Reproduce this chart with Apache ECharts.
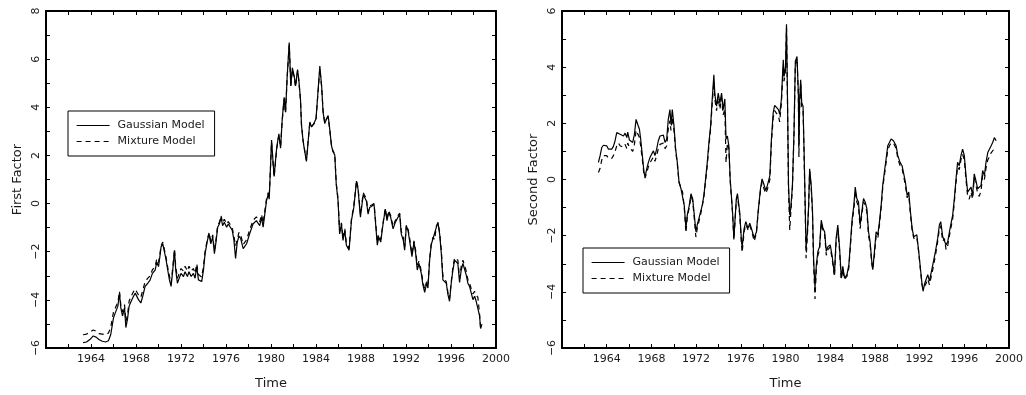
<!DOCTYPE html>
<html>
<head>
<meta charset="utf-8">
<script src="https://cdn.jsdelivr.net/npm/echarts@6/dist/echarts.min.js"></script>
<style>html,body{margin:0;padding:0;background:#fff}#c{width:1026px;height:395px}</style>
</head>
<body>
<div id="c"></div>
<script>
// ---- Left panel: First Factor ----
const time1 = [1963.3,1963.6,1963.9,1964.2,1964.45,1964.7,1965.0,1965.3,1965.55,1965.75,1966.0,1966.15,1966.39,1966.53,1966.65,1966.8,1966.98,1967.1,1967.24,1967.39,1967.57,1967.78,1967.93,1968.07,1968.22,1968.43,1968.6,1968.81,1969.05,1969.26,1969.46,1969.7,1969.85,1970.0,1970.14,1970.23,1970.38,1970.53,1970.68,1970.82,1970.97,1971.12,1971.27,1971.42,1971.53,1971.68,1971.83,1972.0,1972.22,1972.36,1972.57,1972.71,1972.9,1973.1,1973.25,1973.4,1973.55,1973.72,1973.84,1974.0,1974.14,1974.35,1974.5,1974.64,1974.82,1974.97,1975.11,1975.26,1975.41,1975.56,1975.7,1975.85,1976.06,1976.2,1976.35,1976.55,1976.7,1976.85,1977.0,1977.15,1977.3,1977.53,1977.83,1978.1,1978.4,1978.7,1979.0,1979.16,1979.3,1979.6,1979.75,1979.84,1980.05,1980.2,1980.28,1980.5,1980.7,1980.85,1981.0,1981.17,1981.29,1981.44,1981.62,1981.76,1981.9,1982.06,1982.18,1982.36,1982.47,1982.62,1982.71,1982.86,1983.0,1983.15,1983.3,1983.45,1983.6,1983.8,1984.0,1984.13,1984.34,1984.5,1984.63,1984.78,1984.93,1985.08,1985.23,1985.37,1985.5,1985.67,1985.8,1985.96,1986.1,1986.26,1986.4,1986.56,1986.7,1986.94,1987.15,1987.36,1987.6,1987.74,1987.95,1988.2,1988.33,1988.48,1988.63,1988.77,1988.98,1989.16,1989.3,1989.45,1989.57,1989.75,1989.96,1990.16,1990.31,1990.46,1990.64,1990.85,1991.05,1991.29,1991.44,1991.58,1991.76,1991.88,1992.03,1992.18,1992.38,1992.53,1992.71,1992.86,1993.0,1993.15,1993.36,1993.5,1993.66,1993.83,1993.95,1994.1,1994.25,1994.4,1994.54,1994.7,1994.84,1994.99,1995.14,1995.28,1995.43,1995.58,1995.73,1995.87,1996.02,1996.17,1996.32,1996.47,1996.61,1996.76,1996.91,1997.06,1997.2,1997.35,1997.5,1997.65,1997.8,1997.95,1998.1,1998.24,1998.39,1998.54,1998.63,1998.75];
const gauss1 = [-5.78,-5.75,-5.65,-5.5,-5.55,-5.65,-5.72,-5.75,-5.7,-5.45,-4.75,-4.55,-4.26,-3.72,-4.33,-4.67,-4.33,-5.15,-4.81,-4.26,-4.06,-3.85,-3.72,-3.78,-3.99,-4.13,-3.85,-3.44,-3.31,-3.17,-2.9,-2.76,-2.42,-2.62,-2.14,-1.8,-1.67,-1.73,-2.35,-2.76,-3.17,-3.44,-2.76,-1.94,-2.76,-3.31,-3.37,-2.9,-3.03,-2.83,-3.03,-2.83,-3.03,-2.9,-3.1,-2.62,-3.17,-3.1,-3.24,-2.76,-2.08,-1.53,-1.26,-1.67,-1.39,-2.08,-1.6,-0.98,-0.85,-0.57,-0.92,-0.78,-0.98,-0.85,-0.9,-1.1,-1.5,-2.28,-1.6,-1.35,-1.45,-1.87,-1.67,-1.26,-0.85,-0.71,-0.92,-0.57,-0.98,0.11,0.38,0.18,2.64,1.6,1.13,2.3,2.9,2.3,3.52,4.41,3.8,5.3,6.69,4.89,5.64,5.3,4.89,5.57,5.16,4.34,3.25,2.57,2.16,1.75,2.57,3.39,3.18,3.32,3.52,4.34,5.71,4.89,3.8,3.32,3.52,3.66,3.05,2.43,2.16,2.02,0.8,0.11,-1.26,-0.85,-1.53,-1.12,-1.73,-1.94,-0.71,-0.16,0.93,0.59,-0.57,0.38,0.45,0.11,-0.44,-0.16,-0.1,-0.03,-0.85,-1.73,-1.39,-1.6,-0.85,-0.23,-0.71,-0.37,-0.57,-1.05,-0.78,-0.57,-0.44,-1.26,-1.53,-1.94,-0.92,-1.12,-1.73,-2.21,-1.6,-2.08,-2.76,-2.49,-2.9,-3.37,-3.69,-3.31,-3.51,-2.35,-1.69,-1.46,-1.53,-0.98,-0.78,-1.26,-2.08,-3.17,-3.1,-3.31,-3.78,-4.06,-3.31,-2.76,-2.35,-2.42,-2.49,-3.28,-2.76,-2.49,-2.49,-2.96,-3.31,-3.44,-3.72,-3.99,-3.85,-4.06,-4.06,-4.67,-5.19,-5.01];
const mix1 = [-5.45,-5.42,-5.35,-5.25,-5.3,-5.4,-5.42,-5.45,-5.38,-5.15,-4.5,-4.35,-4.1,-3.65,-4.2,-4.5,-4.2,-4.9,-4.65,-4.05,-3.85,-3.65,-3.55,-3.6,-3.8,-3.9,-3.6,-3.25,-3.1,-3.0,-2.75,-2.6,-2.3,-2.45,-2.05,-1.75,-1.6,-1.65,-2.25,-2.65,-3.0,-3.3,-2.65,-1.9,-2.6,-3.1,-3.15,-2.7,-2.8,-2.6,-2.8,-2.6,-2.8,-2.7,-2.9,-2.5,-2.95,-2.9,-3.05,-2.6,-2.0,-1.45,-1.2,-1.55,-1.3,-1.95,-1.5,-0.9,-0.78,-0.5,-0.8,-0.65,-0.85,-0.75,-0.8,-1.0,-1.35,-1.75,-1.5,-1.2,-1.3,-1.7,-1.5,-1.1,-0.7,-0.55,-0.75,-0.45,-0.8,0.2,0.45,0.25,2.55,1.55,1.1,2.25,2.85,2.35,3.45,4.35,3.75,5.25,6.6,4.9,5.55,5.25,4.85,5.5,5.1,4.3,3.3,2.6,2.2,1.8,2.6,3.35,3.2,3.3,3.45,4.3,5.6,4.85,3.85,3.35,3.5,3.6,3.05,2.45,2.2,2.05,0.85,0.2,-1.15,-0.8,-1.45,-1.05,-1.65,-1.85,-0.65,-0.1,0.95,0.65,-0.45,0.45,0.5,0.2,-0.35,-0.1,-0.05,0.0,-0.75,-1.6,-1.3,-1.5,-0.8,-0.2,-0.65,-0.3,-0.5,-0.95,-0.7,-0.5,-0.4,-1.15,-1.4,-1.8,-0.9,-1.05,-1.6,-2.1,-1.55,-1.95,-2.55,-2.4,-2.8,-3.25,-3.55,-3.25,-3.4,-2.3,-1.65,-1.4,-1.5,-0.95,-0.8,-1.2,-1.95,-3.0,-3.05,-3.25,-3.7,-3.95,-3.25,-2.65,-2.25,-2.3,-2.35,-3.1,-2.6,-2.35,-2.4,-2.8,-3.15,-3.3,-3.55,-3.75,-3.65,-3.8,-3.9,-4.6,-5.15,-5.0];

// ---- Right panel: Second Factor ----
const time2 = [1963.26,1963.41,1963.56,1963.71,1963.86,1964.0,1964.16,1964.3,1964.45,1964.6,1964.75,1964.9,1965.05,1965.2,1965.35,1965.5,1965.65,1965.8,1965.88,1966.03,1966.18,1966.33,1966.48,1966.63,1966.78,1966.93,1967.04,1967.19,1967.34,1967.43,1967.58,1967.73,1967.88,1968.03,1968.18,1968.32,1968.47,1968.62,1968.77,1968.92,1969.07,1969.22,1969.37,1969.51,1969.66,1969.75,1969.87,1970.02,1970.17,1970.32,1970.47,1970.65,1970.79,1970.94,1971.09,1971.21,1971.39,1971.54,1971.69,1971.84,1971.98,1972.1,1972.25,1972.4,1972.55,1972.7,1972.85,1973.0,1973.15,1973.3,1973.44,1973.59,1973.68,1973.83,1973.98,1974.13,1974.28,1974.42,1974.57,1974.68,1974.8,1974.93,1975.05,1975.26,1975.38,1975.6,1975.7,1975.9,1976.06,1976.12,1976.3,1976.45,1976.65,1976.8,1976.95,1977.2,1977.4,1977.55,1977.76,1977.9,1978.05,1978.23,1978.38,1978.6,1978.74,1978.9,1979.03,1979.18,1979.37,1979.48,1979.63,1979.8,1979.87,1980.0,1980.09,1980.18,1980.27,1980.38,1980.47,1980.62,1980.76,1980.88,1981.03,1981.15,1981.2,1981.27,1981.36,1981.45,1981.57,1981.66,1981.75,1981.84,1981.96,1982.07,1982.16,1982.3,1982.41,1982.52,1982.64,1982.76,1982.9,1983.05,1983.2,1983.35,1983.5,1983.65,1983.8,1984.0,1984.18,1984.38,1984.53,1984.68,1984.84,1984.99,1985.13,1985.28,1985.5,1985.67,1985.82,1985.97,1986.12,1986.24,1986.38,1986.53,1986.68,1986.83,1986.98,1987.13,1987.28,1987.43,1987.57,1987.72,1987.81,1987.96,1988.11,1988.26,1988.41,1988.56,1988.7,1988.85,1989.0,1989.15,1989.3,1989.45,1989.66,1989.9,1990.05,1990.25,1990.43,1990.58,1990.73,1990.88,1991.03,1991.18,1991.33,1991.48,1991.63,1991.75,1991.92,1992.07,1992.22,1992.31,1992.43,1992.58,1992.73,1992.88,1993.03,1993.18,1993.42,1993.62,1993.77,1993.89,1994.07,1994.22,1994.37,1994.52,1994.67,1994.82,1994.96,1995.11,1995.26,1995.4,1995.55,1995.7,1995.85,1996.0,1996.15,1996.3,1996.44,1996.6,1996.74,1996.89,1997.04,1997.2,1997.34,1997.5,1997.64,1997.8,1997.94,1998.1,1998.24,1998.4,1998.54,1998.69,1998.85];
const gauss2 = [0.61,0.85,1.14,1.22,1.18,1.2,1.08,1.1,1.08,1.18,1.38,1.67,1.73,1.61,1.67,1.55,1.65,1.49,1.69,1.41,1.44,1.32,1.61,2.14,1.96,1.79,1.44,0.85,0.26,0.08,0.38,0.61,0.79,0.73,1.02,0.85,1.08,1.38,1.55,1.49,1.58,1.32,1.44,2.14,2.49,1.96,2.49,1.91,1.08,0.61,-0.09,-0.33,-0.39,-0.92,-1.74,-1.27,-0.92,-0.51,-0.68,-1.27,-1.86,-1.62,-1.39,-1.15,-0.92,-0.56,0.02,0.61,1.32,1.91,2.85,3.73,3.02,2.61,3.08,2.73,3.08,2.49,2.87,1.44,1.55,1.2,0.02,-1.15,-2.09,-0.68,-0.5,-1.15,-2.2,-2.4,-1.74,-1.5,-1.74,-1.56,-1.74,-2.09,-1.86,-1.15,-0.33,0.02,-0.15,-0.39,-0.21,0.14,1.44,2.38,2.64,2.61,2.49,2.32,2.85,4.26,3.67,4.02,5.53,2.85,-0.21,-1.27,-1.04,-0.21,1.67,4.2,4.38,3.08,1.2,2.85,3.55,2.73,2.61,1.08,-0.68,-2.45,-1.86,-0.92,0.38,-0.21,-1.04,-2.92,-3.86,-3.04,-2.56,-2.39,-1.45,-1.74,-1.86,-2.56,-2.39,-2.33,-2.74,-3.39,-2.09,-1.62,-2.45,-3.51,-3.09,-3.51,-3.39,-3.04,-2.21,-1.39,-0.92,-0.27,-0.68,-0.8,-1.62,-1.15,-0.68,-0.8,-1.04,-1.86,-2.21,-2.92,-3.21,-2.56,-1.86,-1.97,-1.5,-0.92,-0.21,0.26,0.73,1.2,1.32,1.44,1.38,1.2,0.85,0.61,0.49,0.55,-0.09,-0.56,-0.45,-1.15,-1.74,-2.04,-2.09,-1.97,-2.56,-3.15,-3.74,-3.98,-3.74,-3.56,-3.39,-3.62,-3.62,-3.04,-2.56,-2.09,-1.62,-1.5,-2.04,-1.97,-2.33,-2.21,-1.86,-1.86,-1.27,-0.68,0.02,0.61,0.49,0.85,1.08,0.85,0.14,-0.45,-0.45,-0.27,-0.56,0.2,-0.04,-0.33,-0.39,-0.21,0.32,0.14,0.61,0.96,1.02,1.2,1.32,1.49,1.38];
const mix2 = [0.25,0.4,0.7,0.85,0.8,0.85,0.75,0.72,0.75,0.85,1.0,1.2,1.3,1.2,1.25,1.15,1.25,1.1,1.3,1.15,1.1,1.0,1.25,1.75,1.7,1.5,1.2,0.7,0.15,0.05,0.25,0.45,0.6,0.55,0.8,0.65,0.85,1.1,1.25,1.2,1.3,1.1,1.2,1.8,2.1,1.75,2.2,1.75,1.0,0.55,-0.1,-0.3,-0.45,-1.0,-1.9,-1.35,-1.0,-0.6,-0.75,-1.4,-2.05,-1.75,-1.5,-1.25,-0.95,-0.6,-0.05,0.5,1.2,1.8,2.7,3.5,2.85,2.45,2.9,2.5,2.9,2.3,2.5,0.6,1.3,1.1,-0.05,-1.2,-2.15,-0.75,-0.6,-1.25,-2.3,-2.6,-1.85,-1.6,-1.8,-1.65,-1.8,-2.2,-1.9,-1.2,-0.4,-0.1,-0.3,-0.5,-0.35,0.0,1.3,2.2,2.45,2.4,2.25,2.05,2.7,4.0,3.5,3.9,5.4,2.7,-0.4,-1.8,-1.2,-0.3,1.6,4.1,4.3,3.0,0.8,2.7,3.45,2.6,2.5,0.9,-0.8,-2.8,-2.0,-1.0,0.3,-0.3,-1.15,-3.1,-4.25,-3.2,-2.7,-2.5,-1.55,-1.8,-1.95,-2.7,-2.5,-2.4,-2.85,-3.45,-2.2,-1.75,-2.55,-3.55,-3.2,-3.55,-3.45,-3.15,-2.3,-1.5,-1.05,-0.4,-0.8,-0.95,-1.75,-1.25,-0.8,-0.9,-1.15,-2.0,-2.3,-3.0,-3.2,-2.7,-2.0,-2.1,-1.6,-1.0,-0.3,0.15,0.6,1.05,1.2,1.3,1.3,1.1,0.75,0.5,0.4,0.45,-0.2,-0.65,-0.55,-1.25,-1.8,-2.1,-2.15,-2.05,-2.6,-3.2,-3.75,-3.9,-3.85,-3.7,-3.55,-3.75,-3.8,-3.2,-2.7,-2.2,-1.75,-1.65,-2.2,-2.1,-2.5,-2.35,-2.0,-2.0,-1.4,-0.8,-0.1,0.45,0.35,0.7,0.9,0.7,0.0,-0.6,-0.7,-0.45,-0.7,0.05,-0.2,-0.5,-0.6,-0.4,0.15,0.0,0.4,0.7,0.8,0.95,1.0,1.1,1.05];

const xTickLabels = [1964,1968,1972,1976,1980,1984,1988,1992,1996,2000];
const yTicks1 = [-6,-4,-2,0,2,4,6,8];
const yTicks2 = [-6,-4,-2,0,2,4,6];

const FONT = 'DejaVu Sans';
const TXT = '#1a1a1a';
const pair = (xs, ys) => xs.map((x, i) => [x, ys[i]]);
const minus = v => String(v).replace('-', '\u2212');

function xAxes(grid) {
  const base = {
    gridIndex: grid, type: 'value', min: 1960, max: 2000, interval: 2,
    axisLine: { show: true, onZero: false, lineStyle: { color: '#000', width: 2 } },
    axisTick: { show: true, inside: true, length: 4, lineStyle: { color: '#000', width: 1 } },
    splitLine: { show: false }
  };
  return [
    Object.assign({}, base, {
      position: 'bottom',
      name: 'Time', nameLocation: 'middle', nameGap: 29,
      nameTextStyle: { fontFamily: FONT, fontSize: 13, color: TXT },
      axisLabel: { show: true, margin: 6, fontFamily: FONT, fontSize: 11, color: TXT,
        formatter: v => xTickLabels.includes(v) ? String(v) : '' }
    }),
    Object.assign({}, base, { position: 'top', axisLabel: { show: false } })
  ];
}
function yAxes(grid, min, max, name, ticks) {
  const base = {
    gridIndex: grid, type: 'value', min: min, max: max, interval: 1,
    axisLine: { show: true, onZero: false, lineStyle: { color: '#000', width: 2 } },
    axisTick: { show: true, inside: true, length: 4, lineStyle: { color: '#000', width: 1 } },
    splitLine: { show: false }
  };
  return [
    Object.assign({}, base, {
      position: 'left',
      name: name, nameLocation: 'middle', nameGap: 22, nameRotate: 90,
      nameTextStyle: { fontFamily: FONT, fontSize: 13, color: TXT },
      axisLabel: { show: true, rotate: 90, margin: 4, fontFamily: FONT, fontSize: 11, color: TXT,
        formatter: v => ticks.includes(v) ? minus(v) : '' }
    }),
    Object.assign({}, base, { position: 'right', axisLabel: { show: false } })
  ];
}
function lineSeries(name, xi, yi, data, dashed) {
  return {
    name: name, type: 'line', xAxisIndex: xi, yAxisIndex: yi, data: data,
    symbol: 'none', smooth: false, silent: true,
    lineStyle: { color: '#000', width: 1.2, type: dashed ? [5, 4] : 'solid' },
    itemStyle: { color: '#000' }, z: dashed ? 2 : 3
  };
}
function legend(left, top) {
  return {
    left: left, top: top, orient: 'vertical',
    data: ['Gaussian Model', 'Mixture Model'],
    borderColor: '#000', borderWidth: 1, padding: [9, 10, 9, 8],
    itemWidth: 33, itemHeight: 10, itemGap: 5,
    itemStyle: { opacity: 0, borderWidth: 0 },
    lineStyle: { width: 1.2 },
    textStyle: { fontFamily: FONT, fontSize: 11, color: TXT, padding: [0, 0, 0, 3] },
    selectedMode: false
  };
}

const chart = echarts.init(document.getElementById('c'), null, { renderer: 'canvas' });
chart.setOption({
  animation: false,
  backgroundColor: '#fff',
  grid: [
    { left: 46, top: 11, width: 450, height: 341 },
    { left: 562, top: 11, width: 448, height: 340 }
  ],
  xAxis: [].concat(xAxes(0), xAxes(1)),
  yAxis: [].concat(yAxes(0, -6, 8, 'First Factor', yTicks1), yAxes(1, -6, 6, 'Second Factor', yTicks2)),
  legend: [legend(68, 111), legend(583, 248)],
  series: [
    lineSeries('Mixture Model', 0, 0, pair(time1, mix1), true),
    lineSeries('Gaussian Model', 0, 0, pair(time1, gauss1), false),
    lineSeries('Mixture Model', 2, 2, pair(time2, mix2), true),
    lineSeries('Gaussian Model', 2, 2, pair(time2, gauss2), false)
  ]
});
</script>
</body>
</html>
